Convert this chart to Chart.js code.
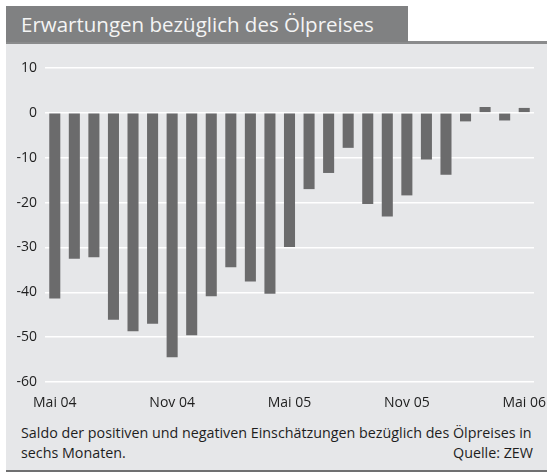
<!DOCTYPE html>
<html>
<head>
<meta charset="utf-8">
<script src="https://cdn.jsdelivr.net/npm/chart.js@4.4.1/dist/chart.umd.min.js"></script>
<style>
  html, body { margin: 0; padding: 0; background: #ffffff; }
  body { width: 547px; height: 473px; position: relative; overflow: hidden; font-family: "Open Sans", "Noto Sans", sans-serif; }
  #panel { position: absolute; left: 6px; top: 41px; width: 541px; height: 431px; background: #e6e7e9; border-top: 3px solid #8a8b8c; border-bottom: 2px solid #6f7071; box-sizing: border-box; }
  #titlebar { position: absolute; left: 6px; top: 6px; width: 402px; height: 36px; background: #808182; }
  #title { position: absolute; left: 21px; top: 6px; height: 36px; line-height: 36px; color: #f4f4f4; font-size: 22px; font-weight: 400; white-space: nowrap; }
  .cap { position: absolute; color: #1e1e1e; font-size: 14px; white-space: nowrap; line-height: 20px; }
  #c { position: absolute; left: 0; top: 0; }
</style>
</head>
<body>
<div id="panel"></div>
<div id="titlebar"></div>
<div id="title">Erwartungen bezüglich des Ölpreises</div>
<div class="cap" id="cap1" style="left:21px; top:423px;">Saldo der positiven und negativen Einschätzungen bezüglich des Ölpreises in</div>
<div class="cap" id="cap2" style="left:21px; top:443px;">sechs Monaten.</div>
<div class="cap" id="cap3" style="right:14px; top:443px;">Quelle: ZEW</div>
<canvas id="c" width="547" height="473"></canvas>
<script>
const months = ["Mai 04","Jun 04","Jul 04","Aug 04","Sep 04","Okt 04","Nov 04","Dez 04",
  "Jan 05","Feb 05","Mär 05","Apr 05","Mai 05","Jun 05","Jul 05","Aug 05","Sep 05","Okt 05",
  "Nov 05","Dez 05","Jan 06","Feb 06","Mär 06","Apr 06","Mai 06"];
const tickLabels = ["Mai 04","Nov 04","Mai 05","Nov 05","Mai 06"];
const saldo = [-41.4,-32.5,-32.2,-46.1,-48.7,-47.0,-54.5,-49.6,
  -40.9,-34.4,-37.6,-40.3,-29.9,-17.0,-13.4,-7.8,-20.3,-23.1,
  -18.4,-10.4,-13.8,-1.9,1.3,-1.7,1.1];
const yTicks = [10,0,-10,-20,-30,-40,-50,-60];

function fit(id, target) {
  const el = document.getElementById(id);
  const fs = parseFloat(getComputedStyle(el).fontSize);
  const w = el.getBoundingClientRect().width;
  el.style.fontSize = (fs * target / w).toFixed(2) + 'px';
}
fit('title', 353);
fit('cap1', 511);
document.getElementById('cap2').style.fontSize = document.getElementById('cap1').style.fontSize;
document.getElementById('cap3').style.fontSize = document.getElementById('cap1').style.fontSize;

const FONT = { family: '"Open Sans", "Noto Sans", sans-serif', size: 14 };

new Chart(document.getElementById('c'), {
  type: 'bar',
  data: {
    labels: months,
    datasets: [{
      data: saldo,
      backgroundColor: '#6b6b6c',
      borderWidth: 0,
      barPercentage: 0.565,
      categoryPercentage: 1.0
    }]
  },
  options: {
    responsive: false,
    animation: false,
    layout: { padding: { left: 6, right: 13, top: 68, bottom: 61 } },
    plugins: { legend: { display: false }, tooltip: { enabled: false }, title: { display: false } },
    scales: {
      x: {
        grid: { display: false, drawTicks: false },
        border: { display: false },
        ticks: {
          autoSkip: false, maxRotation: 0, minRotation: 0,
          color: '#1e1e1e', font: FONT, padding: 13,
          callback: function(v, i) { const l = months[i]; return tickLabels.includes(l) ? l : ''; }
        },
        afterFit: function(s) { s.height = 30; s.paddingLeft = 0; s.paddingRight = 0; }
      },
      y: {
        min: -60, max: 10,
        afterBuildTicks: function(s) { s.ticks = yTicks.map(v => ({ value: v })); },
        grid: { color: '#ffffff', lineWidth: 1.5, drawTicks: false },
        border: { display: false },
        ticks: { color: '#1e1e1e', font: FONT, padding: 8 },
        afterFit: function(s) { s.width = 39; s.paddingTop = 0; s.paddingBottom = 0; }
      }
    }
  }
});
</script>
</body>
</html>
